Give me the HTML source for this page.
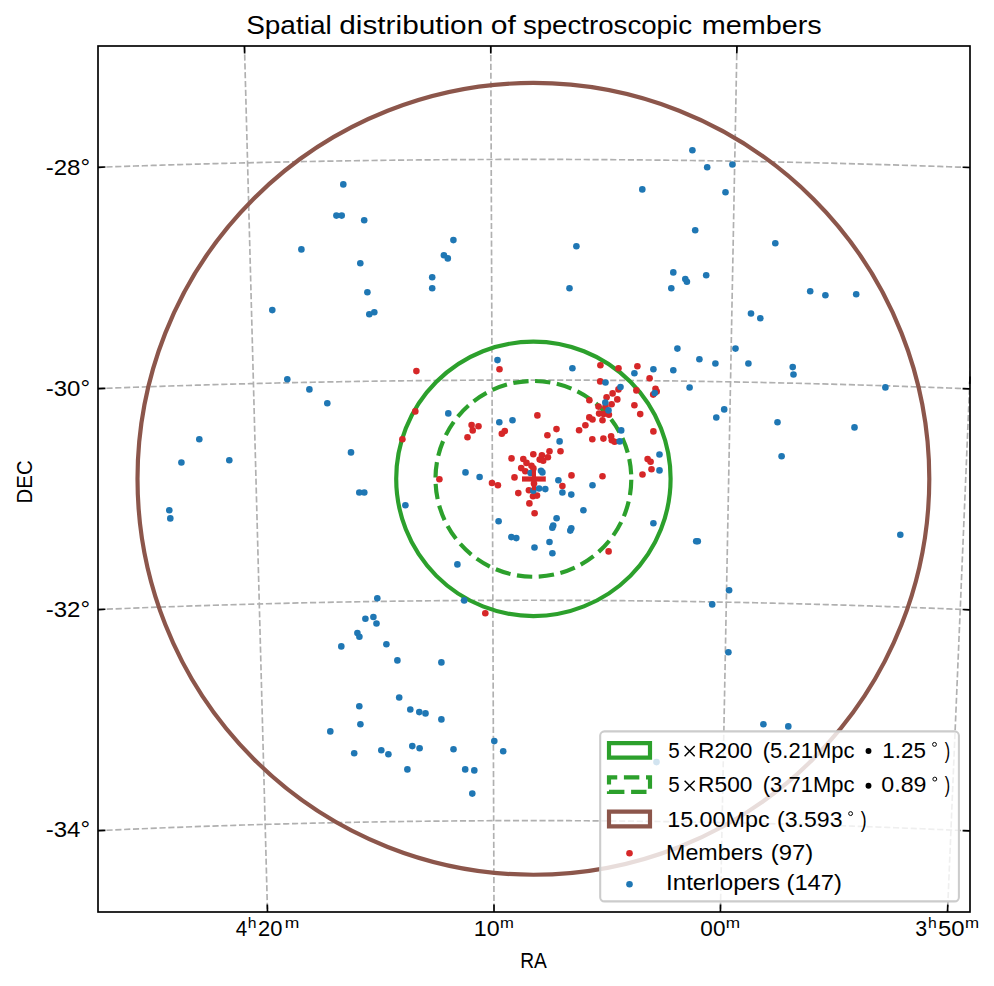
<!DOCTYPE html>
<html><head><meta charset="utf-8"><style>html,body{margin:0;padding:0;background:#fff;overflow:hidden}svg{display:block}</style></head><body>
<svg width="994" height="986" viewBox="0 0 994 986">
<rect width="994" height="986" fill="#fff"/>
<defs><clipPath id="ax"><rect x="98" y="46" width="872" height="866"/></clipPath></defs>
<g clip-path="url(#ax)">
<g fill="none" stroke="#b0b0b0" stroke-width="1.67" stroke-dasharray="6.17 2.67">
<path d="M97.56,167.32 L106.73,166.99 L115.90,166.67 L125.07,166.35 L134.24,166.04 L143.40,165.74 L152.56,165.44 L161.73,165.15 L170.89,164.87 L180.05,164.60 L189.21,164.33 L198.36,164.07 L207.52,163.82 L216.67,163.57 L225.83,163.33 L234.98,163.10 L244.13,162.88 L253.28,162.66 L262.43,162.45 L271.58,162.25 L280.73,162.05 L289.88,161.86 L299.03,161.68 L308.17,161.50 L317.32,161.33 L326.46,161.17 L335.60,161.02 L344.75,160.87 L353.89,160.73 L363.03,160.60 L372.17,160.47 L381.31,160.35 L390.45,160.24 L399.59,160.14 L408.73,160.04 L417.87,159.95 L427.01,159.86 L436.15,159.79 L445.29,159.72 L454.42,159.65 L463.56,159.60 L472.70,159.55 L481.83,159.51 L490.97,159.47 L500.11,159.45 L509.24,159.43 L518.38,159.41 L527.52,159.41 L536.65,159.41 L545.79,159.42 L554.92,159.43 L564.06,159.45 L573.20,159.48 L582.33,159.52 L591.47,159.56 L600.61,159.61 L609.74,159.67 L618.88,159.73 L628.02,159.80 L637.16,159.88 L646.30,159.97 L655.44,160.06 L664.57,160.16 L673.71,160.26 L682.85,160.38 L692.00,160.50 L701.14,160.62 L710.28,160.76 L719.42,160.90 L728.56,161.05 L737.71,161.21 L746.85,161.37 L756.00,161.54 L765.14,161.71 L774.29,161.90 L783.44,162.09 L792.59,162.29 L801.74,162.49 L810.89,162.70 L820.04,162.92 L829.19,163.15 L838.34,163.38 L847.50,163.62 L856.65,163.87 L865.81,164.13 L874.97,164.39 L884.12,164.66 L893.28,164.93 L902.45,165.21 L911.61,165.50 L920.77,165.80 L929.94,166.11 L939.10,166.42 L948.27,166.74 L957.44,167.06 L966.61,167.39 L970.05,167.52"/>
<path d="M97.57,388.65 L106.55,388.29 L115.53,387.95 L124.51,387.61 L133.49,387.28 L142.46,386.96 L151.44,386.64 L160.41,386.34 L169.38,386.04 L178.35,385.74 L187.32,385.46 L196.29,385.18 L205.26,384.91 L214.22,384.64 L223.19,384.39 L232.15,384.14 L241.11,383.90 L250.08,383.66 L259.04,383.44 L268.00,383.22 L276.96,383.01 L285.92,382.80 L294.87,382.60 L303.83,382.41 L312.79,382.23 L321.74,382.06 L330.70,381.89 L339.65,381.73 L348.61,381.57 L357.56,381.43 L366.51,381.29 L375.46,381.16 L384.41,381.03 L393.36,380.92 L402.31,380.81 L411.27,380.71 L420.21,380.61 L429.16,380.53 L438.11,380.45 L447.06,380.37 L456.01,380.31 L464.96,380.25 L473.91,380.20 L482.85,380.16 L491.80,380.12 L500.75,380.09 L509.70,380.07 L518.64,380.06 L527.59,380.05 L536.54,380.05 L545.48,380.06 L554.43,380.07 L563.38,380.10 L572.33,380.13 L581.27,380.16 L590.22,380.21 L599.17,380.26 L608.12,380.32 L617.07,380.39 L626.02,380.46 L634.96,380.54 L643.91,380.63 L652.86,380.73 L661.81,380.83 L670.76,380.94 L679.71,381.06 L688.67,381.19 L697.62,381.32 L706.57,381.46 L715.52,381.61 L724.48,381.76 L733.43,381.92 L742.39,382.09 L751.34,382.27 L760.30,382.45 L769.26,382.64 L778.21,382.84 L787.17,383.05 L796.13,383.26 L805.09,383.48 L814.05,383.71 L823.02,383.95 L831.98,384.19 L840.94,384.44 L849.91,384.70 L858.87,384.96 L867.84,385.24 L876.81,385.52 L885.78,385.80 L894.75,386.10 L903.72,386.40 L912.70,386.71 L921.67,387.03 L930.65,387.35 L939.62,387.68 L948.60,388.02 L957.58,388.37 L966.56,388.72 L969.93,388.85"/>
<path d="M97.95,609.56 L106.74,609.19 L115.53,608.83 L124.32,608.47 L133.10,608.12 L141.89,607.78 L150.67,607.44 L159.46,607.11 L168.24,606.80 L177.02,606.48 L185.80,606.18 L194.58,605.88 L203.36,605.59 L212.14,605.31 L220.91,605.04 L229.69,604.77 L238.46,604.52 L247.24,604.27 L256.01,604.02 L264.78,603.79 L273.55,603.56 L282.32,603.34 L291.09,603.13 L299.86,602.92 L308.63,602.73 L317.39,602.54 L326.16,602.36 L334.93,602.18 L343.69,602.02 L352.46,601.86 L361.22,601.71 L369.98,601.56 L378.75,601.43 L387.51,601.30 L396.27,601.18 L405.03,601.06 L413.79,600.96 L422.55,600.86 L431.31,600.77 L440.07,600.69 L448.83,600.61 L457.59,600.54 L466.35,600.48 L475.11,600.43 L483.87,600.39 L492.63,600.35 L501.39,600.32 L510.15,600.30 L518.91,600.28 L527.66,600.28 L536.42,600.28 L545.18,600.29 L553.94,600.30 L562.70,600.33 L571.46,600.36 L580.22,600.40 L588.98,600.44 L597.74,600.50 L606.49,600.56 L615.25,600.63 L624.01,600.70 L632.77,600.79 L641.53,600.88 L650.30,600.98 L659.06,601.09 L667.82,601.20 L676.58,601.32 L685.34,601.45 L694.11,601.59 L702.87,601.74 L711.63,601.89 L720.40,602.05 L729.16,602.22 L737.93,602.39 L746.70,602.58 L755.46,602.77 L764.23,602.97 L773.00,603.17 L781.77,603.39 L790.54,603.61 L799.31,603.84 L808.08,604.07 L816.85,604.32 L825.63,604.57 L834.40,604.83 L843.18,605.10 L851.95,605.37 L860.73,605.65 L869.51,605.94 L878.29,606.24 L887.07,606.55 L895.85,606.86 L904.64,607.18 L913.42,607.51 L922.20,607.85 L930.99,608.19 L939.78,608.54 L948.57,608.90 L957.36,609.27 L966.15,609.64 L970.55,609.83"/>
<path d="M97.63,830.66 L106.23,830.27 L114.83,829.88 L123.43,829.50 L132.03,829.13 L140.62,828.77 L149.22,828.42 L157.82,828.07 L166.41,827.73 L175.00,827.40 L183.59,827.08 L192.18,826.76 L200.77,826.45 L209.36,826.16 L217.95,825.86 L226.53,825.58 L235.12,825.31 L243.71,825.04 L252.29,824.78 L260.87,824.53 L269.45,824.28 L278.04,824.05 L286.62,823.82 L295.20,823.60 L303.77,823.39 L312.35,823.18 L320.93,822.98 L329.51,822.80 L338.08,822.61 L346.66,822.44 L355.24,822.28 L363.81,822.12 L372.39,821.97 L380.96,821.83 L389.53,821.69 L398.11,821.57 L406.68,821.45 L415.25,821.34 L423.82,821.24 L432.39,821.14 L440.97,821.06 L449.54,820.98 L458.11,820.91 L466.68,820.84 L475.25,820.79 L483.82,820.74 L492.39,820.70 L500.96,820.67 L509.53,820.65 L518.10,820.63 L526.67,820.62 L535.24,820.62 L543.81,820.63 L552.38,820.65 L560.95,820.67 L569.52,820.70 L578.09,820.74 L586.66,820.79 L595.23,820.84 L603.80,820.90 L612.37,820.97 L620.94,821.05 L629.51,821.14 L638.08,821.23 L646.66,821.34 L655.23,821.45 L663.80,821.56 L672.37,821.69 L680.95,821.82 L689.52,821.96 L698.09,822.11 L706.67,822.27 L715.25,822.43 L723.82,822.61 L732.40,822.79 L740.97,822.98 L749.55,823.17 L758.13,823.38 L766.71,823.59 L775.29,823.81 L783.87,824.04 L792.45,824.27 L801.03,824.52 L809.62,824.77 L818.20,825.03 L826.79,825.29 L835.37,825.57 L843.96,825.85 L852.54,826.14 L861.13,826.44 L869.72,826.75 L878.31,827.06 L886.90,827.39 L895.50,827.72 L904.09,828.06 L912.69,828.40 L921.28,828.76 L929.88,829.12 L938.48,829.49 L947.08,829.87 L955.68,830.25 L964.28,830.65 L970.73,830.95"/>
<path d="M244.45,45.63 L244.71,55.61 L244.98,65.59 L245.24,75.57 L245.51,85.55 L245.78,95.52 L246.04,105.50 L246.31,115.47 L246.57,125.43 L246.84,135.40 L247.10,145.36 L247.37,155.32 L247.63,165.28 L247.90,175.24 L248.16,185.20 L248.43,195.15 L248.69,205.10 L248.95,215.05 L249.22,225.00 L249.48,234.95 L249.75,244.90 L250.01,254.84 L250.28,264.78 L250.54,274.72 L250.81,284.66 L251.07,294.60 L251.33,304.54 L251.60,314.47 L251.86,324.41 L252.13,334.34 L252.39,344.27 L252.66,354.20 L252.92,364.13 L253.18,374.06 L253.45,383.99 L253.71,393.92 L253.98,403.85 L254.24,413.77 L254.50,423.70 L254.77,433.62 L255.03,443.54 L255.30,453.47 L255.56,463.39 L255.82,473.31 L256.09,483.23 L256.35,493.16 L256.62,503.08 L256.88,513.00 L257.14,522.92 L257.41,532.84 L257.67,542.76 L257.94,552.68 L258.20,562.60 L258.46,572.52 L258.73,582.44 L258.99,592.36 L259.25,602.28 L259.52,612.20 L259.78,622.12 L260.05,632.04 L260.31,641.97 L260.57,651.89 L260.84,661.81 L261.10,671.73 L261.37,681.66 L261.63,691.58 L261.89,701.51 L262.16,711.43 L262.42,721.36 L262.69,731.29 L262.95,741.21 L263.21,751.14 L263.48,761.07 L263.74,771.00 L264.01,780.94 L264.27,790.87 L264.54,800.80 L264.80,810.74 L265.06,820.68 L265.33,830.61 L265.59,840.55 L265.86,850.49 L266.12,860.44 L266.39,870.38 L266.65,880.33 L266.92,890.27 L267.18,900.22 L267.44,910.17 L267.51,912.66"/>
<path d="M490.77,46.12 L490.81,56.10 L490.85,66.07 L490.89,76.05 L490.92,86.02 L490.96,95.98 L491.00,105.95 L491.04,115.91 L491.07,125.87 L491.11,135.83 L491.15,145.79 L491.18,155.74 L491.22,165.69 L491.26,175.64 L491.30,185.59 L491.33,195.54 L491.37,205.49 L491.41,215.43 L491.45,225.37 L491.48,235.31 L491.52,245.25 L491.56,255.19 L491.59,265.12 L491.63,275.06 L491.67,284.99 L491.71,294.92 L491.74,304.85 L491.78,314.78 L491.82,324.71 L491.85,334.64 L491.89,344.56 L491.93,354.49 L491.97,364.41 L492.00,374.33 L492.04,384.25 L492.08,394.17 L492.11,404.10 L492.15,414.01 L492.19,423.93 L492.23,433.85 L492.26,443.77 L492.30,453.69 L492.34,463.60 L492.37,473.52 L492.41,483.44 L492.45,493.35 L492.49,503.27 L492.52,513.18 L492.56,523.10 L492.60,533.01 L492.63,542.93 L492.67,552.84 L492.71,562.75 L492.75,572.67 L492.78,582.58 L492.82,592.50 L492.86,602.41 L492.89,612.33 L492.93,622.24 L492.97,632.16 L493.01,642.08 L493.04,651.99 L493.08,661.91 L493.12,671.83 L493.15,681.75 L493.19,691.67 L493.23,701.59 L493.27,711.51 L493.30,721.43 L493.34,731.35 L493.38,741.27 L493.41,751.20 L493.45,761.12 L493.49,771.05 L493.53,780.98 L493.56,790.90 L493.60,800.83 L493.64,810.77 L493.67,820.70 L493.71,830.63 L493.75,840.57 L493.79,850.50 L493.82,860.44 L493.86,870.38 L493.90,880.32 L493.93,890.26 L493.97,900.21 L494.01,910.15 L494.02,912.64"/>
<path d="M736.95,45.27 L736.76,55.25 L736.57,65.23 L736.38,75.21 L736.19,85.18 L736.00,95.15 L735.81,105.12 L735.62,115.09 L735.43,125.05 L735.24,135.01 L735.05,144.97 L734.86,154.93 L734.66,164.89 L734.47,174.84 L734.28,184.79 L734.09,194.74 L733.90,204.69 L733.71,214.64 L733.52,224.59 L733.34,234.53 L733.15,244.47 L732.96,254.41 L732.77,264.35 L732.58,274.29 L732.39,284.23 L732.20,294.16 L732.01,304.09 L731.82,314.03 L731.63,323.96 L731.44,333.89 L731.25,343.82 L731.06,353.74 L730.87,363.67 L730.68,373.60 L730.49,383.52 L730.30,393.45 L730.11,403.37 L729.92,413.29 L729.73,423.22 L729.54,433.14 L729.35,443.06 L729.16,452.98 L728.97,462.90 L728.78,472.82 L728.60,482.74 L728.41,492.65 L728.22,502.57 L728.03,512.49 L727.84,522.41 L727.65,532.33 L727.46,542.24 L727.27,552.16 L727.08,562.08 L726.89,572.00 L726.70,581.91 L726.51,591.83 L726.32,601.75 L726.13,611.67 L725.94,621.59 L725.75,631.50 L725.57,641.42 L725.38,651.34 L725.19,661.26 L725.00,671.18 L724.81,681.10 L724.62,691.03 L724.43,700.95 L724.24,710.87 L724.05,720.80 L723.86,730.72 L723.67,740.65 L723.48,750.57 L723.29,760.50 L723.10,770.43 L722.91,780.36 L722.72,790.29 L722.53,800.22 L722.34,810.15 L722.15,820.09 L721.96,830.02 L721.77,839.96 L721.58,849.90 L721.39,859.84 L721.20,869.78 L721.01,879.72 L720.82,889.67 L720.63,899.61 L720.44,909.56 L720.40,912.05"/>
<path d="M970.98,353.22 L970.56,363.16 L970.14,373.10 L969.72,383.04 L969.31,392.98 L968.89,402.91 L968.47,412.85 L968.05,422.78 L967.64,432.72 L967.22,442.65 L966.80,452.58 L966.39,462.51 L965.97,472.45 L965.55,482.38 L965.13,492.31 L964.72,502.24 L964.30,512.17 L963.88,522.10 L963.47,532.03 L963.05,541.95 L962.63,551.88 L962.21,561.81 L961.80,571.74 L961.38,581.67 L960.96,591.60 L960.55,601.53 L960.13,611.46 L959.71,621.39 L959.29,631.32 L958.88,641.25 L958.46,651.18 L958.04,661.11 L957.63,671.04 L957.21,680.97 L956.79,690.90 L956.37,700.84 L955.96,710.77 L955.54,720.70 L955.12,730.64 L954.70,740.57 L954.29,750.51 L953.87,760.45 L953.45,770.39 L953.03,780.33 L952.62,790.27 L952.20,800.21 L951.78,810.15 L951.36,820.09 L950.95,830.04 L950.53,839.99 L950.11,849.93 L949.69,859.88 L949.27,869.83 L948.86,879.78 L948.44,889.74 L948.02,899.69 L947.60,909.65 L947.50,912.14"/>
</g>
<circle cx="533.4" cy="478.85" r="395.9" fill="none" stroke="#8c564b" stroke-width="4.17"/>
<circle cx="533.4" cy="478.85" r="137.2" fill="none" stroke="#2ca02c" stroke-width="4.17"/>
<circle cx="533.4" cy="478.85" r="97.9" fill="none" stroke="#2ca02c" stroke-width="4.17" stroke-dasharray="15.337 6.632" stroke-dashoffset="-0.95"/>
<g fill="#d62728"><circle cx="416.4" cy="371.1" r="3.3"/>
<circle cx="415.3" cy="411.4" r="3.3"/>
<circle cx="402.4" cy="439.2" r="3.3"/>
<circle cx="471.6" cy="425.1" r="3.3"/>
<circle cx="478.5" cy="426.3" r="3.3"/>
<circle cx="472.7" cy="430.4" r="3.3"/>
<circle cx="467.5" cy="437.3" r="3.3"/>
<circle cx="439.4" cy="479.3" r="3.3"/>
<circle cx="499.5" cy="369.3" r="3.3"/>
<circle cx="537.4" cy="415.4" r="3.3"/>
<circle cx="501.8" cy="433.7" r="3.3"/>
<circle cx="504.8" cy="431.1" r="3.3"/>
<circle cx="556.5" cy="429.1" r="3.3"/>
<circle cx="547.4" cy="435.2" r="3.3"/>
<circle cx="600.4" cy="365.2" r="3.3"/>
<circle cx="618.5" cy="368.3" r="3.3"/>
<circle cx="637.4" cy="366.2" r="3.3"/>
<circle cx="649.6" cy="378.3" r="3.3"/>
<circle cx="600.2" cy="381.4" r="3.3"/>
<circle cx="618.5" cy="389.4" r="3.3"/>
<circle cx="636.4" cy="390.4" r="3.3"/>
<circle cx="655.5" cy="388.7" r="3.3"/>
<circle cx="656.7" cy="391.6" r="3.3"/>
<circle cx="653.2" cy="394.6" r="3.3"/>
<circle cx="612.6" cy="393.4" r="3.3"/>
<circle cx="606.6" cy="397.3" r="3.3"/>
<circle cx="617.3" cy="399.4" r="3.3"/>
<circle cx="589.4" cy="400.2" r="3.3"/>
<circle cx="611.6" cy="404.3" r="3.3"/>
<circle cx="634.4" cy="405.3" r="3.3"/>
<circle cx="598.5" cy="406.6" r="3.3"/>
<circle cx="605.5" cy="406.7" r="3.3"/>
<circle cx="599.1" cy="413.6" r="3.3"/>
<circle cx="603.7" cy="413.9" r="3.3"/>
<circle cx="608.9" cy="414.8" r="3.3"/>
<circle cx="640.2" cy="414.1" r="3.3"/>
<circle cx="589.3" cy="417.4" r="3.3"/>
<circle cx="592.5" cy="419.5" r="3.3"/>
<circle cx="602.5" cy="420.2" r="3.3"/>
<circle cx="585.4" cy="425.3" r="3.3"/>
<circle cx="579.1" cy="430.3" r="3.3"/>
<circle cx="653.4" cy="431.4" r="3.3"/>
<circle cx="592.3" cy="439.2" r="3.3"/>
<circle cx="603.4" cy="438.6" r="3.3"/>
<circle cx="611.1" cy="436.2" r="3.3"/>
<circle cx="611.8" cy="440.3" r="3.3"/>
<circle cx="614.6" cy="441.8" r="3.3"/>
<circle cx="549.5" cy="451.2" r="3.3"/>
<circle cx="560.5" cy="451.2" r="3.3"/>
<circle cx="533.3" cy="454.2" r="3.3"/>
<circle cx="541.9" cy="455.3" r="3.3"/>
<circle cx="547.9" cy="457.3" r="3.3"/>
<circle cx="539.7" cy="459.6" r="3.3"/>
<circle cx="543.2" cy="460.8" r="3.3"/>
<circle cx="511.5" cy="458.4" r="3.3"/>
<circle cx="523.3" cy="459.0" r="3.3"/>
<circle cx="526.5" cy="462.9" r="3.3"/>
<circle cx="531.5" cy="465.7" r="3.3"/>
<circle cx="521.2" cy="468.1" r="3.3"/>
<circle cx="525.3" cy="471.3" r="3.3"/>
<circle cx="533.4" cy="468.4" r="3.3"/>
<circle cx="514.5" cy="477.4" r="3.3"/>
<circle cx="534.0" cy="483.5" r="3.3"/>
<circle cx="492.0" cy="483.0" r="3.3"/>
<circle cx="497.9" cy="485.2" r="3.3"/>
<circle cx="571.5" cy="475.4" r="3.3"/>
<circle cx="562.4" cy="486.1" r="3.3"/>
<circle cx="528.9" cy="490.2" r="3.3"/>
<circle cx="518.3" cy="493.1" r="3.3"/>
<circle cx="533.0" cy="496.3" r="3.3"/>
<circle cx="537.0" cy="495.6" r="3.3"/>
<circle cx="529.4" cy="503.4" r="3.3"/>
<circle cx="534.6" cy="513.3" r="3.3"/>
<circle cx="647.6" cy="459.1" r="3.3"/>
<circle cx="650.6" cy="461.8" r="3.3"/>
<circle cx="651.5" cy="469.3" r="3.3"/>
<circle cx="642.5" cy="474.5" r="3.3"/>
<circle cx="602.5" cy="476.3" r="3.3"/>
<circle cx="608.6" cy="551.4" r="3.3"/>
<circle cx="485.3" cy="613.3" r="3.3"/></g>
<g fill="#1f77b4"><circle cx="343.3" cy="184.4" r="3.3"/>
<circle cx="336.4" cy="215.6" r="3.3"/>
<circle cx="341.7" cy="215.6" r="3.3"/>
<circle cx="301.4" cy="249.4" r="3.3"/>
<circle cx="272.3" cy="310.1" r="3.3"/>
<circle cx="364.2" cy="220.3" r="3.3"/>
<circle cx="360.3" cy="263.3" r="3.3"/>
<circle cx="367.4" cy="292.3" r="3.3"/>
<circle cx="369.3" cy="314.2" r="3.3"/>
<circle cx="374.3" cy="312.2" r="3.3"/>
<circle cx="453.4" cy="240.1" r="3.3"/>
<circle cx="443.9" cy="255.2" r="3.3"/>
<circle cx="447.8" cy="258.4" r="3.3"/>
<circle cx="432.2" cy="277.3" r="3.3"/>
<circle cx="432.2" cy="288.2" r="3.3"/>
<circle cx="692.4" cy="150.3" r="3.3"/>
<circle cx="707.2" cy="167.3" r="3.3"/>
<circle cx="732.4" cy="164.5" r="3.3"/>
<circle cx="642.3" cy="189.4" r="3.3"/>
<circle cx="725.5" cy="192.3" r="3.3"/>
<circle cx="695.2" cy="230.2" r="3.3"/>
<circle cx="576.4" cy="246.2" r="3.3"/>
<circle cx="569.5" cy="288.2" r="3.3"/>
<circle cx="673.3" cy="272.4" r="3.3"/>
<circle cx="671.3" cy="288.2" r="3.3"/>
<circle cx="685.3" cy="279.1" r="3.3"/>
<circle cx="686.9" cy="281.7" r="3.3"/>
<circle cx="706.2" cy="275.2" r="3.3"/>
<circle cx="751.0" cy="313.5" r="3.3"/>
<circle cx="775.3" cy="243.2" r="3.3"/>
<circle cx="810.2" cy="291.3" r="3.3"/>
<circle cx="825.4" cy="295.3" r="3.3"/>
<circle cx="856.2" cy="294.3" r="3.3"/>
<circle cx="760.3" cy="318.2" r="3.3"/>
<circle cx="287.3" cy="379.3" r="3.3"/>
<circle cx="309.4" cy="389.4" r="3.3"/>
<circle cx="327.3" cy="403.2" r="3.3"/>
<circle cx="199.3" cy="439.3" r="3.3"/>
<circle cx="181.4" cy="462.5" r="3.3"/>
<circle cx="229.3" cy="460.2" r="3.3"/>
<circle cx="169.3" cy="510.2" r="3.3"/>
<circle cx="170.3" cy="518.4" r="3.3"/>
<circle cx="351.0" cy="452.4" r="3.3"/>
<circle cx="448.3" cy="413.4" r="3.3"/>
<circle cx="465.5" cy="472.4" r="3.3"/>
<circle cx="479.6" cy="477.0" r="3.3"/>
<circle cx="497.5" cy="360.1" r="3.3"/>
<circle cx="572.4" cy="368.3" r="3.3"/>
<circle cx="499.3" cy="422.3" r="3.3"/>
<circle cx="512.5" cy="420.3" r="3.3"/>
<circle cx="559.6" cy="441.4" r="3.3"/>
<circle cx="634.4" cy="373.3" r="3.3"/>
<circle cx="653.4" cy="369.3" r="3.3"/>
<circle cx="605.5" cy="382.5" r="3.3"/>
<circle cx="620.5" cy="387.0" r="3.3"/>
<circle cx="654.7" cy="393.1" r="3.3"/>
<circle cx="605.3" cy="402.5" r="3.3"/>
<circle cx="608.5" cy="410.4" r="3.3"/>
<circle cx="621.2" cy="430.4" r="3.3"/>
<circle cx="619.7" cy="441.4" r="3.3"/>
<circle cx="541.0" cy="470.7" r="3.3"/>
<circle cx="542.4" cy="472.4" r="3.3"/>
<circle cx="530.6" cy="473.0" r="3.3"/>
<circle cx="558.4" cy="480.3" r="3.3"/>
<circle cx="562.4" cy="492.5" r="3.3"/>
<circle cx="571.3" cy="494.6" r="3.3"/>
<circle cx="533.3" cy="490.8" r="3.3"/>
<circle cx="539.1" cy="488.5" r="3.3"/>
<circle cx="545.3" cy="489.1" r="3.3"/>
<circle cx="498.6" cy="521.2" r="3.3"/>
<circle cx="556.6" cy="518.2" r="3.3"/>
<circle cx="553.2" cy="525.6" r="3.3"/>
<circle cx="552.3" cy="527.8" r="3.3"/>
<circle cx="571.3" cy="528.2" r="3.3"/>
<circle cx="570.3" cy="530.6" r="3.3"/>
<circle cx="511.3" cy="537.1" r="3.3"/>
<circle cx="516.3" cy="538.1" r="3.3"/>
<circle cx="549.5" cy="542.0" r="3.3"/>
<circle cx="534.5" cy="547.5" r="3.3"/>
<circle cx="552.4" cy="553.2" r="3.3"/>
<circle cx="659.5" cy="454.5" r="3.3"/>
<circle cx="659.5" cy="470.4" r="3.3"/>
<circle cx="592.5" cy="485.3" r="3.3"/>
<circle cx="583.4" cy="510.3" r="3.3"/>
<circle cx="653.4" cy="523.3" r="3.3"/>
<circle cx="677.4" cy="348.6" r="3.3"/>
<circle cx="735.5" cy="348.6" r="3.3"/>
<circle cx="699.4" cy="359.2" r="3.3"/>
<circle cx="715.4" cy="363.5" r="3.3"/>
<circle cx="748.4" cy="363.5" r="3.3"/>
<circle cx="673.3" cy="370.3" r="3.3"/>
<circle cx="792.7" cy="367.1" r="3.3"/>
<circle cx="793.5" cy="374.5" r="3.3"/>
<circle cx="689.6" cy="387.5" r="3.3"/>
<circle cx="724.2" cy="409.4" r="3.3"/>
<circle cx="716.3" cy="417.5" r="3.3"/>
<circle cx="777.5" cy="422.3" r="3.3"/>
<circle cx="781.6" cy="456.3" r="3.3"/>
<circle cx="885.4" cy="387.4" r="3.3"/>
<circle cx="854.5" cy="427.4" r="3.3"/>
<circle cx="696.2" cy="541.3" r="3.3"/>
<circle cx="697.8" cy="541.3" r="3.3"/>
<circle cx="729.1" cy="590.2" r="3.3"/>
<circle cx="712.2" cy="604.4" r="3.3"/>
<circle cx="900.3" cy="534.7" r="3.3"/>
<circle cx="728.4" cy="652.3" r="3.3"/>
<circle cx="763.4" cy="724.3" r="3.3"/>
<circle cx="788.3" cy="726.4" r="3.3"/>
<circle cx="359.3" cy="492.5" r="3.3"/>
<circle cx="364.3" cy="492.5" r="3.3"/>
<circle cx="405.4" cy="505.3" r="3.3"/>
<circle cx="457.4" cy="564.4" r="3.3"/>
<circle cx="377.3" cy="598.2" r="3.3"/>
<circle cx="464.2" cy="600.4" r="3.3"/>
<circle cx="365.4" cy="618.8" r="3.3"/>
<circle cx="373.4" cy="617.0" r="3.3"/>
<circle cx="376.5" cy="623.5" r="3.3"/>
<circle cx="357.4" cy="633.0" r="3.3"/>
<circle cx="359.4" cy="636.7" r="3.3"/>
<circle cx="341.3" cy="646.4" r="3.3"/>
<circle cx="386.4" cy="644.2" r="3.3"/>
<circle cx="397.4" cy="660.4" r="3.3"/>
<circle cx="441.4" cy="662.4" r="3.3"/>
<circle cx="399.2" cy="697.5" r="3.3"/>
<circle cx="359.3" cy="706.3" r="3.3"/>
<circle cx="410.3" cy="709.5" r="3.3"/>
<circle cx="419.3" cy="712.1" r="3.3"/>
<circle cx="425.5" cy="713.4" r="3.3"/>
<circle cx="441.4" cy="719.4" r="3.3"/>
<circle cx="360.4" cy="724.3" r="3.3"/>
<circle cx="330.3" cy="731.4" r="3.3"/>
<circle cx="412.3" cy="746.1" r="3.3"/>
<circle cx="419.6" cy="748.2" r="3.3"/>
<circle cx="453.5" cy="749.2" r="3.3"/>
<circle cx="494.3" cy="741.1" r="3.3"/>
<circle cx="354.2" cy="753.3" r="3.3"/>
<circle cx="381.3" cy="750.3" r="3.3"/>
<circle cx="388.4" cy="754.3" r="3.3"/>
<circle cx="503.2" cy="751.3" r="3.3"/>
<circle cx="407.4" cy="769.4" r="3.3"/>
<circle cx="465.2" cy="769.4" r="3.3"/>
<circle cx="474.3" cy="770.4" r="3.3"/>
<circle cx="472.3" cy="793.6" r="3.3"/>
<circle cx="656.5" cy="762.1" r="3.3"/></g>
<path d="M522,479 H545.8" stroke="#d62728" stroke-width="5.2"/>
<path d="M533.9,466.8 V490.2" stroke="#d62728" stroke-width="4.2"/>
</g>
<rect x="98" y="46" width="872" height="866" fill="none" stroke="#000" stroke-width="1.67"/>
<g stroke="#000" stroke-width="1.67">
<line x1="98.00" y1="167.31" x2="105.40" y2="167.04"/>
<line x1="970.00" y1="167.52" x2="962.61" y2="167.25"/>
<line x1="98.00" y1="388.63" x2="105.39" y2="388.34"/>
<line x1="970.00" y1="388.86" x2="962.61" y2="388.56"/>
<line x1="98.00" y1="609.56" x2="105.39" y2="609.24"/>
<line x1="970.00" y1="609.81" x2="962.61" y2="609.49"/>
<line x1="98.00" y1="830.65" x2="105.39" y2="830.30"/>
<line x1="970.00" y1="830.91" x2="962.61" y2="830.57"/>
<line x1="244.46" y1="46.00" x2="244.65" y2="53.40"/>
<line x1="267.49" y1="912.00" x2="267.30" y2="904.60"/>
<line x1="490.77" y1="46.00" x2="490.80" y2="53.40"/>
<line x1="494.02" y1="912.00" x2="493.99" y2="904.60"/>
<line x1="736.94" y1="46.00" x2="736.79" y2="53.40"/>
<line x1="720.40" y1="912.00" x2="720.54" y2="904.60"/>
<line x1="947.50" y1="912.00" x2="947.81" y2="904.61"/>
<line x1="970.00" y1="376.47" x2="969.69" y2="383.86"/>
</g>
<g font-family="Liberation Sans, sans-serif" fill="#000">
<text x="246.19" y="34.2" font-size="25.2" textLength="85.44" lengthAdjust="spacingAndGlyphs">Spatial</text>
<text x="339.32" y="34.2" font-size="25.2" textLength="143.92" lengthAdjust="spacingAndGlyphs">distribution</text>
<text x="490.8" y="34.2" font-size="25.2" textLength="25.11" lengthAdjust="spacingAndGlyphs">of</text>
<text x="522.9" y="34.2" font-size="25.2" textLength="169.1" lengthAdjust="spacingAndGlyphs">spectroscopic</text>
<text x="701.71" y="34.2" font-size="25.2" textLength="119.99" lengthAdjust="spacingAndGlyphs">members</text>
<text x="45.71" y="174.6" font-size="22.0" textLength="44.35" lengthAdjust="spacingAndGlyphs">-28°</text>
<text x="45.71" y="395.5" font-size="22.0" textLength="44.35" lengthAdjust="spacingAndGlyphs">-30°</text>
<text x="45.71" y="616.6" font-size="22.0" textLength="44.35" lengthAdjust="spacingAndGlyphs">-32°</text>
<text x="45.71" y="836.6" font-size="22.0" textLength="44.35" lengthAdjust="spacingAndGlyphs">-34°</text>
<text x="235.7" y="935.9" font-size="22.0" textLength="11.43" lengthAdjust="spacingAndGlyphs">4</text>
<text x="247.89" y="927.6" font-size="15.5" textLength="8.75" lengthAdjust="spacingAndGlyphs">h</text>
<text x="258.0" y="935.9" font-size="22.0" textLength="24.38" lengthAdjust="spacingAndGlyphs">20</text>
<text x="284.77" y="927.6" font-size="15.5" textLength="14.57" lengthAdjust="spacingAndGlyphs">m</text>
<text x="473.89" y="935.9" font-size="22.0" textLength="25.82" lengthAdjust="spacingAndGlyphs">10</text>
<text x="500.13" y="927.6" font-size="15.5" textLength="13.86" lengthAdjust="spacingAndGlyphs">m</text>
<text x="700.37" y="935.9" font-size="22.0" textLength="25.12" lengthAdjust="spacingAndGlyphs">00</text>
<text x="725.89" y="927.6" font-size="15.5" textLength="14.33" lengthAdjust="spacingAndGlyphs">m</text>
<text x="915.33" y="935.9" font-size="22.0" textLength="11.92" lengthAdjust="spacingAndGlyphs">3</text>
<text x="927.99" y="927.6" font-size="15.5" textLength="8.75" lengthAdjust="spacingAndGlyphs">h</text>
<text x="938.02" y="935.9" font-size="22.0" textLength="26.51" lengthAdjust="spacingAndGlyphs">50</text>
<text x="965.11" y="927.6" font-size="15.5" textLength="14.1" lengthAdjust="spacingAndGlyphs">m</text>
<text x="520.16" y="967.7" font-size="22.0" textLength="26.66" lengthAdjust="spacingAndGlyphs">RA</text>
<text transform="translate(31.8,962.3) rotate(-90)" x="458.84" y="0" font-size="22.0" textLength="43.18" lengthAdjust="spacingAndGlyphs">DEC</text>
</g>
<rect x="600.2" y="731.4" width="358.7" height="170" rx="4.2" ry="4.2" fill="#fff" fill-opacity="0.8" stroke="#cccccc" stroke-width="2.08"/>
<path d="M609,757.65 H650 V743.05 H609 Z" fill="none" stroke="#2ca02c" stroke-width="4.17"/>
<path d="M609,791.9 H650 V777.3 H609 Z" fill="none" stroke="#2ca02c" stroke-width="4.17" stroke-dasharray="15.42 6.67"/>
<path d="M609,826.3 H650 V811.7 H609 Z" fill="none" stroke="#8c564b" stroke-width="4.17"/>
<circle cx="629.5" cy="853.3" r="3.3" fill="#d62728"/>
<circle cx="629.5" cy="884.3" r="3.3" fill="#1f77b4"/>
<g font-family="Liberation Sans, sans-serif" fill="#000">
<text x="668.36" y="757.6" font-size="22.0" textLength="11.47" lengthAdjust="spacingAndGlyphs">5</text>
<text x="698.14" y="757.6" font-size="22.0" textLength="54.28" lengthAdjust="spacingAndGlyphs">R200</text>
<text x="762.8" y="757.6" font-size="22.0" textLength="91.72" lengthAdjust="spacingAndGlyphs">(5.21Mpc</text>
<text x="882.36" y="757.6" font-size="22.0" textLength="43.58" lengthAdjust="spacingAndGlyphs">1.25</text>
<text x="944.8" y="757.6" font-size="22.0" textLength="5.37" lengthAdjust="spacingAndGlyphs">)</text>
<text x="668.36" y="792.3" font-size="22.0" textLength="11.47" lengthAdjust="spacingAndGlyphs">5</text>
<text x="698.14" y="792.3" font-size="22.0" textLength="54.28" lengthAdjust="spacingAndGlyphs">R500</text>
<text x="762.8" y="792.3" font-size="22.0" textLength="91.72" lengthAdjust="spacingAndGlyphs">(3.71Mpc</text>
<text x="881.35" y="792.3" font-size="22.0" textLength="45.13" lengthAdjust="spacingAndGlyphs">0.89</text>
<text x="944.8" y="792.3" font-size="22.0" textLength="5.37" lengthAdjust="spacingAndGlyphs">)</text>
<text x="667.18" y="826.8" font-size="22.0" textLength="102.48" lengthAdjust="spacingAndGlyphs">15.00Mpc</text>
<text x="777.05" y="826.8" font-size="22.0" textLength="65.46" lengthAdjust="spacingAndGlyphs">(3.593</text>
<text x="860.7" y="826.8" font-size="22.0" textLength="5.86" lengthAdjust="spacingAndGlyphs">)</text>
<text x="666.09" y="860.0" font-size="22.0" textLength="96.84" lengthAdjust="spacingAndGlyphs">Members</text>
<text x="770.72" y="860.0" font-size="22.0" textLength="42.4" lengthAdjust="spacingAndGlyphs">(97)</text>
<text x="666.0" y="889.5" font-size="22.0" textLength="114.14" lengthAdjust="spacingAndGlyphs">Interlopers</text>
<text x="786.52" y="889.5" font-size="22.0" textLength="55.34" lengthAdjust="spacingAndGlyphs">(147)</text>
</g>
<path d="M684.60,746.05 L694.70,756.15 M684.60,756.15 L694.70,746.05" stroke="#000" stroke-width="1.45" fill="none"/>
<circle cx="868.5" cy="751.00" r="2.95" fill="#000"/>
<path d="M684.60,780.75 L694.70,790.85 M684.60,790.85 L694.70,780.75" stroke="#000" stroke-width="1.45" fill="none"/>
<circle cx="868.5" cy="785.70" r="2.95" fill="#000"/>
<g fill="none" stroke="#000" stroke-width="1.0">
<circle cx="934.5" cy="744.4" r="1.95"/>
<circle cx="934.8" cy="779.1" r="1.95"/>
<circle cx="850.6" cy="813.6" r="1.95"/>
</g>
</svg>
</body></html>
